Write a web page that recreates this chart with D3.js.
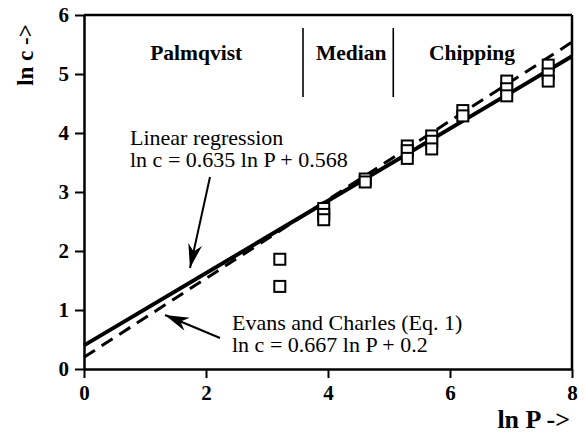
<!DOCTYPE html>
<html>
<head>
<meta charset="utf-8">
<script src="https://cdn.jsdelivr.net/npm/d3@7"></script>
<style>
  body { margin: 0; background: #fff; }
  svg { display: block; }
  svg text { font-family: "Liberation Serif", "Times New Roman", serif; }
</style>
</head>
<body>
<div id="chart"></div>
<script>
// --- DATA ---
const xTicks = [0, 2, 4, 6, 8];
const yTicks = [0, 1, 2, 3, 4, 5, 6];

// measured points (ln P, ln c)
const pointsLnP = [3.21, 3.21, 3.93, 3.93, 3.93, 4.61, 4.61, 5.30, 5.30, 5.30, 5.70, 5.70, 5.70, 6.21, 6.21, 6.93, 6.93, 6.93, 7.61, 7.61, 7.61];
const pointsLnC = [1.86, 1.40, 2.72, 2.62, 2.53, 3.22, 3.17, 3.78, 3.70, 3.57, 3.95, 3.86, 3.73, 4.38, 4.29, 4.88, 4.75, 4.63, 5.15, 5.00, 4.88];

// line end points
const regressionLine = [[0, 0.40], [8, 5.30]];
const evansLine = [[0, 0.20], [8, 5.54]];

// region labels and dividers
const regions = [
  { name: "Palmqvist", x: 1.84 },
  { name: "Median", x: 4.38 },
  { name: "Chipping", x: 6.36 }
];
const dividers = [3.59, 5.07];

// --- SETUP ---
const width = 585, height = 438;
const serif = "'Liberation Serif', 'Times New Roman', serif";
const svg = d3.select("#chart").append("svg")
    .attr("width", width)
    .attr("height", height);

const x = d3.scaleLinear().domain([0, 8]).range([84, 572]);
const y = d3.scaleLinear().domain([0, 6]).range([369, 15]);

// --- AXES ---
const xAxis = svg.append("g")
    .attr("transform", `translate(0,${y(0)})`)
    .call(d3.axisBottom(x).tickValues(xTicks).tickFormat(d3.format("d"))
      .tickSize(9).tickPadding(7).tickSizeOuter(0));
const yAxis = svg.append("g")
    .attr("transform", `translate(${x(0)},0)`)
    .call(d3.axisLeft(y).tickValues(yTicks).tickFormat(d3.format("d"))
      .tickSize(9).tickPadding(6).tickSizeOuter(0));

[xAxis, yAxis].forEach(g => {
  g.attr("font-family", serif).attr("font-size", 21);
  g.select(".domain").attr("stroke", "#000").attr("stroke-width", 2.5);
  g.selectAll(".tick line").attr("stroke", "#000").attr("stroke-width", 2);
  g.selectAll(".tick text")
    .attr("fill", "#000")
    .style("font-family", serif)
    .style("font-size", "21px")
    .style("font-weight", "bold");
});

// frame top and right
svg.append("line")
    .attr("x1", x(0)).attr("x2", x(8))
    .attr("y1", y(6)).attr("y2", y(6))
    .attr("stroke", "#000").attr("stroke-width", 2.5);
svg.append("line")
    .attr("x1", x(8)).attr("x2", x(8))
    .attr("y1", y(6)).attr("y2", y(0))
    .attr("stroke", "#000").attr("stroke-width", 2.5);

// axis titles
svg.append("text")
    .attr("transform", `translate(33,${55}) rotate(-90)`)
    .attr("text-anchor", "middle")
    .style("font-family", serif)
    .style("font-size", "23px")
    .style("font-weight", "bold")
    .text("ln c ->");
svg.append("text")
    .attr("x", 570).attr("y", 428)
    .attr("text-anchor", "end")
    .style("font-family", serif)
    .style("font-size", "26px")
    .style("font-weight", "bold")
    .text("ln P ->");

// --- REGION LABELS ---
svg.selectAll(".divider")
    .data(dividers)
    .enter().append("line")
    .attr("x1", d => x(d)).attr("x2", d => x(d))
    .attr("y1", y(5.78)).attr("y2", y(4.61))
    .attr("stroke", "#000").attr("stroke-width", 1.6);

svg.selectAll(".region")
    .data(regions)
    .enter().append("text")
    .attr("x", d => x(d.x))
    .attr("y", 60)
    .attr("text-anchor", "middle")
    .style("font-family", serif)
    .style("font-size", "21.5px")
    .style("font-weight", "bold")
    .text(d => d.name);

// --- LINES ---
const line = d3.line().x(d => x(d[0])).y(d => y(d[1]));

svg.append("path")
    .attr("d", line(evansLine))
    .attr("fill", "none")
    .attr("stroke", "#000")
    .attr("stroke-width", 3)
    .attr("stroke-dasharray", "13 8");

svg.append("path")
    .attr("d", line(regressionLine))
    .attr("fill", "none")
    .attr("stroke", "#000")
    .attr("stroke-width", 4);

// --- POINTS ---
const pts = pointsLnP.map((p, i) => ({ p: p, c: pointsLnC[i] }));
svg.selectAll(".pt")
    .data(pts)
    .enter().append("rect")
    .attr("x", d => x(d.p) - 5.5)
    .attr("y", d => y(d.c) - 5.5)
    .attr("width", 11)
    .attr("height", 11)
    .attr("fill", "#fff")
    .attr("stroke", "#000")
    .attr("stroke-width", 2);

// --- ANNOTATIONS ---
svg.append("defs").append("marker")
    .attr("id", "head")
    .attr("viewBox", "0 0 10 10")
    .attr("refX", 10).attr("refY", 5)
    .attr("markerWidth", 24).attr("markerHeight", 14)
    .attr("markerUnits", "userSpaceOnUse")
    .attr("orient", "auto")
    .attr("preserveAspectRatio", "none")
    .append("path")
    .attr("d", "M0,0 L10,5 L0,10 L3,5 Z")
    .attr("fill", "#000");

function annotation(lines, tx, ty, from, to) {
  const t = svg.append("text")
      .attr("x", tx).attr("y", ty)
      .style("font-family", serif)
      .style("font-size", "22px");
  lines.forEach((s, i) => {
    t.append("tspan").attr("x", tx).attr("dy", i === 0 ? 0 : 22).text(s);
  });
  svg.append("line")
      .attr("x1", from[0]).attr("y1", from[1])
      .attr("x2", to[0]).attr("y2", to[1])
      .attr("stroke", "#000").attr("stroke-width", 2)
      .attr("marker-end", "url(#head)");
}

annotation(["Linear regression", "ln c = 0.635 ln P + 0.568"], 130, 145,
  [210, 177], [190, 268]);
annotation(["Evans and Charles (Eq. 1)", "ln c = 0.667 ln P + 0.2"], 232, 330,
  [220, 338], [165, 315]);
</script>
</body>
</html>
